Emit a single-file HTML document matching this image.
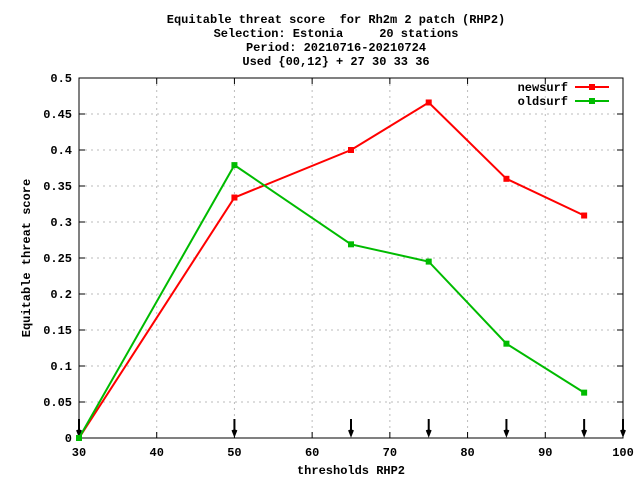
<!DOCTYPE html>
<html><head><meta charset="utf-8"><style>
body{margin:0;background:#fff}
svg text{font-family:"Liberation Mono","DejaVu Sans Mono",monospace;font-size:12px;font-weight:bold;white-space:pre}
</style></head><body>
<svg id="c" width="640" height="480">
<g text-anchor="middle">
<text x="336" y="23" xml:space="preserve">Equitable threat score  for Rh2m 2 patch (RHP2)</text>
<text x="336" y="37" xml:space="preserve">Selection: Estonia     20 stations</text>
<text x="336" y="51">Period: 20210716-20210724</text>
<text x="336" y="65">Used {00,12} + 27 30 33 36</text>
</g>
<text transform="translate(30,258) rotate(-90)" text-anchor="middle">Equitable threat score</text>
<text x="351" y="474" text-anchor="middle">thresholds RHP2</text>
<g id="grid"></g><g id="ticks"></g><g id="series"></g>
<g>
<text x="568" y="91" text-anchor="end">newsurf</text>
<line x1="575" y1="87" x2="609" y2="87" stroke="#f00" stroke-width="2"/>
<rect x="589" y="84" width="6" height="6" fill="#f00"/>
<text x="568" y="105" text-anchor="end">oldsurf</text>
<line x1="575" y1="101" x2="609" y2="101" stroke="#0b0" stroke-width="2"/>
<rect x="589" y="98" width="6" height="6" fill="#0b0"/>
</g>
</svg>
<script>
const xTicks=[30,40,50,60,70,80,90,100];
const yTicks=[0,0.05,0.1,0.15,0.2,0.25,0.3,0.35,0.4,0.45,0.5];
const yTickLabels=["0","0.05","0.1","0.15","0.2","0.25","0.3","0.35","0.4","0.45","0.5"];
const thresholds=[30,50,65,75,85,95];
const newsurf=[0,0.334,0.4,0.466,0.36,0.309];
const oldsurf=[0,0.379,0.269,0.245,0.131,0.063];
const arrows=[30,50,65,75,85,95,100];
const L=79,R=623,T=78,B=438;
const X=v=>L+(v-30)/70*(R-L), Y=v=>B-v/0.5*(B-T);
const NS='http://www.w3.org/2000/svg';
function mk(p,t,a){const e=document.createElementNS(NS,t);for(const k in a)e.setAttribute(k,a[k]);p.appendChild(e);return e;}
const g=document.getElementById('grid'),tk=document.getElementById('ticks'),s=document.getElementById('series');
xTicks.forEach(v=>{
 if(v>30&&v<100){const l=mk(g,'line',{x1:X(v),x2:X(v),y1:T,y2:B,stroke:'#bbb','stroke-dasharray':'2,4'});
 }
 mk(tk,'line',{x1:X(v),x2:X(v),y1:B,y2:B-6,stroke:'#000'});mk(tk,'line',{x1:X(v),x2:X(v),y1:T,y2:T+6,stroke:'#000'});
 const t=mk(tk,'text',{x:X(v),y:B+18,'text-anchor':'middle'});t.textContent=v;
 
});
yTicks.forEach((v,i)=>{
 if(v>0&&v<0.5){const l=mk(g,'line',{x1:L,x2:R,y1:Y(v),y2:Y(v),stroke:'#bbb','stroke-dasharray':'2,4'});
 }
 mk(tk,'line',{x1:L,x2:L+6,y1:Y(v),y2:Y(v),stroke:'#000'});mk(tk,'line',{x1:R,x2:R-6,y1:Y(v),y2:Y(v),stroke:'#000'});
 const t=mk(tk,'text',{x:L-7,y:Y(v)+4,'text-anchor':'end'});t.textContent=yTickLabels[i];
 
});
const fr=mk(tk,'rect',{x:L,y:T,width:R-L,height:B-T,fill:'none',stroke:'#000'});

arrows.forEach(v=>{
 const a=mk(tk,'path',{d:`M${X(v)},${B-19}V${B-3}M${X(v)-2},${B-8}L${X(v)},${B-3}L${X(v)+2},${B-8}`,stroke:'#000','stroke-width':2,fill:'none'});
 
});
[[newsurf,'#f00','newsurf'],[oldsurf,'#0b0','oldsurf']].forEach(([d,c,n])=>{
 const p=mk(s,'polyline',{points:thresholds.map((x,i)=>X(x)+','+Y(d[i])).join(' '),fill:'none',stroke:c,'stroke-width':2});
 
 thresholds.forEach((x,i)=>{const r=mk(s,'rect',{x:X(x)-3,y:Y(d[i])-3,width:6,height:6,fill:c});
 });
});
</script>
</body></html>
